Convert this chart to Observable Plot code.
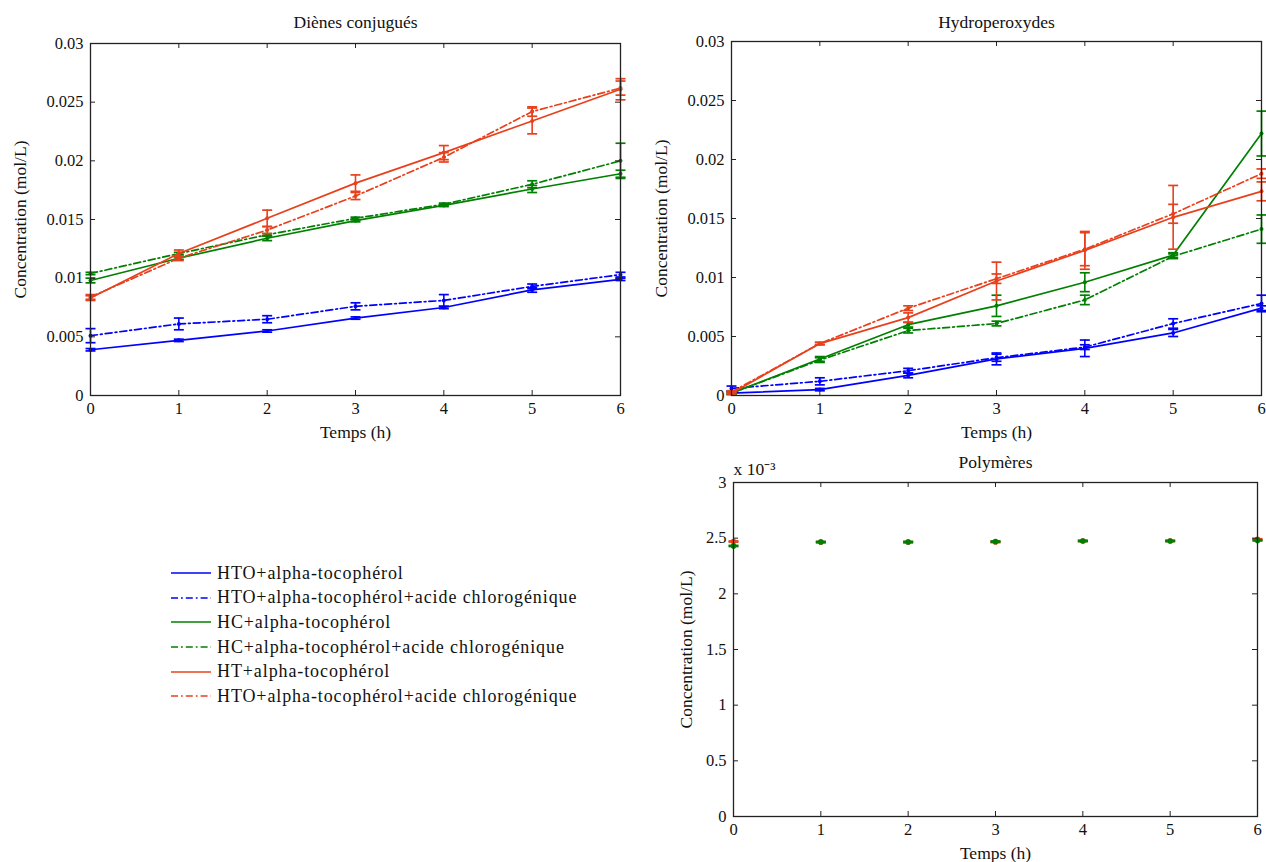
<!DOCTYPE html>
<html>
<head>
<meta charset="utf-8">
<script src="https://cdn.jsdelivr.net/npm/d3@7"></script>
<script src="https://cdn.jsdelivr.net/npm/@observablehq/plot@0.6"></script>
<style>
  html, body { margin: 0; padding: 0; background: #fff; overflow: hidden; }
  #root { position: relative; width: 1266px; height: 862px; font-family: "Liberation Serif", serif; color: #111; }
  .panel { position: absolute; }
  .panel svg { overflow: visible; }
  #legend { position: absolute; left: 170px; top: 561px; font-size: 18px; letter-spacing: 0.9px; }
  #legend .row { display: flex; align-items: center; height: 24.6px; }
  #legend svg { display: block; margin-right: 5px; }
</style>
</head>
<body>
<div id="root">
  <div class="panel" id="p1" style="left:0px;top:0px"></div>
  <div class="panel" id="p2" style="left:641px;top:0px"></div>
  <div class="panel" id="p3" style="left:641px;top:445px"></div>
  <div id="legend"></div>
</div>
<script>
// ---------------- data ----------------
const hours = [0, 1, 2, 3, 4, 5, 6];

const seriesNames = [
  "HTO+alpha-tocophérol",
  "HTO+alpha-tocophérol+acide chlorogénique",
  "HC+alpha-tocophérol",
  "HC+alpha-tocophérol+acide chlorogénique",
  "HT+alpha-tocophérol",
  "HTO+alpha-tocophérol+acide chlorogénique"
];

// Diènes conjugués (mol/L), one list per series, and error half-widths
const dienesHTO   = [0.0039, 0.0047, 0.0055, 0.0066, 0.0075, 0.0090, 0.0099];
const dienesHTOac = [0.0051, 0.0061, 0.0065, 0.0076, 0.0081, 0.0093, 0.0103];
const dienesHC    = [0.0098, 0.0117, 0.0134, 0.0149, 0.0162, 0.0176, 0.0189];
const dienesHCac  = [0.0104, 0.0121, 0.0137, 0.0151, 0.0163, 0.0180, 0.0200];
const dienesHT    = [0.0083, 0.0121, 0.0151, 0.0181, 0.0207, 0.0234, 0.0261];
const dienesHTac  = [0.0084, 0.0117, 0.0141, 0.0170, 0.0203, 0.0242, 0.0262];
const dienesErrHTO   = [0.0001, 0.0001, 0.0001, 0.0001, 0.0001, 0.0002, 0.0001];
const dienesErrHTOac = [0.0006, 0.0005, 0.0003, 0.0003, 0.0005, 0.0002, 0.0002];
const dienesErrHC    = [0.0002, 0.0001, 0.0002, 0.0001, 0.0001, 0.0003, 0.0003];
const dienesErrHCac  = [0.0001, 0.0001, 0.0001, 0.0001, 0.0001, 0.0003, 0.0015];
const dienesErrHT    = [0.0002, 0.0003, 0.0007, 0.0007, 0.0006, 0.0011, 0.0009];
const dienesErrHTac  = [0.0002, 0.0002, 0.0003, 0.0003, 0.0004, 0.0004, 0.0006];

// Hydroperoxydes (mol/L)
const hydroHTO   = [0.0002, 0.0005, 0.0017, 0.0031, 0.0040, 0.0053, 0.0074];
const hydroHTOac = [0.0006, 0.0012, 0.0021, 0.0032, 0.0041, 0.0061, 0.0078];
const hydroHC    = [0.0002, 0.0031, 0.0060, 0.0076, 0.0096, 0.0119, 0.0222];
const hydroHCac  = [0.0002, 0.0030, 0.0055, 0.0061, 0.0081, 0.0118, 0.0141];
const hydroHT    = [0.0002, 0.0044, 0.0066, 0.0097, 0.0123, 0.0151, 0.0173];
const hydroHTac  = [0.0003, 0.0044, 0.0074, 0.0099, 0.0124, 0.0154, 0.0188];
const hydroErrHTO   = [0.0001, 0.0001, 0.0002, 0.0005, 0.0007, 0.0003, 0.0002];
const hydroErrHTOac = [0.0002, 0.0003, 0.0002, 0.0003, 0.0002, 0.0004, 0.0007];
const hydroErrHC    = [0.0001, 0.0002, 0.0002, 0.0009, 0.0008, 0.0002, 0.0019];
const hydroErrHCac  = [0.0001, 0.0002, 0.0002, 0.0002, 0.0004, 0.0002, 0.0012];
const hydroErrHT    = [0.0001, 0.0001, 0.0004, 0.0016, 0.0016, 0.0027, 0.0008];
const hydroErrHTac  = [0.0001, 0.0001, 0.0002, 0.0004, 0.0014, 0.0008, 0.0004];

// Polymères (×10^-3 mol/L): only two series are visible
const polyHC = [2.43, 2.465, 2.465, 2.47, 2.475, 2.475, 2.48];
const polyHT = [2.47, 2.465, 2.465, 2.465, 2.475, 2.475, 2.49];
const polyErrHC = [0.005, 0.005, 0.005, 0.005, 0.005, 0.005, 0.005];
const polyErrHT = [0.005, 0.005, 0.005, 0.005, 0.005, 0.005, 0.005];

// tick values and labels
const yTicksTop = [0, 0.005, 0.01, 0.015, 0.02, 0.025, 0.03];
const yTickLabelsTop = ["0", "0.005", "0.01", "0.015", "0.02", "0.025", "0.03"];
const yTicksPoly = [0, 0.5, 1, 1.5, 2, 2.5, 3];
const yTickLabelsPoly = ["0", "0.5", "1", "1.5", "2", "2.5", "3"];
const xTickLabels = ["0", "1", "2", "3", "4", "5", "6"];

// ---------------- styles ----------------
const FONT = "'Liberation Serif', serif";
const FS = 16.5;      // tick labels
const FL = 17.5;      // titles / axis labels
const BLUE = "#0000ff", GREEN = "#008000", RED = "#e8401c";
const DASHDOT = "7,3,1.8,3";
const seriesStyle = [
  {color: BLUE, dash: null}, {color: BLUE, dash: DASHDOT},
  {color: GREEN, dash: null}, {color: GREEN, dash: DASHDOT},
  {color: RED, dash: null}, {color: RED, dash: DASHDOT}
];

const capSymbol = { draw(ctx) { ctx.moveTo(-5, 0); ctx.lineTo(5, 0); } };

function rowsOf(values, errors) {
  return hours.map((h, i) => ({hour: h, value: values[i], err: errors[i]}));
}

function seriesMarks(rows, st, withLine = true) {
  const marks = [];
  if (withLine) {
    marks.push(Plot.line(rows, {x: "hour", y: "value", stroke: st.color, strokeWidth: 1.7, strokeDasharray: st.dash}));
  }
  marks.push(Plot.ruleX(rows, {x: "hour", y1: d => d.value - d.err, y2: d => d.value + d.err, stroke: st.color, strokeWidth: 1.6}));
  marks.push(Plot.dot(rows, {x: "hour", y: d => d.value - d.err, symbol: capSymbol, stroke: st.color, strokeWidth: 1.7, fill: "none"}));
  marks.push(Plot.dot(rows, {x: "hour", y: d => d.value + d.err, symbol: capSymbol, stroke: st.color, strokeWidth: 1.7, fill: "none"}));
  marks.push(Plot.dot(rows, {x: "hour", y: "value", r: withLine ? 2 : 2.8, fill: st.color, stroke: "none"}));
  return marks;
}

function panel({width, height, mt, mr, mb, ml, yDomain, yTicks, yLabels, title, titleDy, seriesList, ylabelDx, extra = []}) {
  const fw = width - ml - mr, fh = height - mt - mb;
  const marks = [];
  for (const s of seriesList) marks.push(...seriesMarks(s.rows, s.style, s.line));
  const labelStyle = {fontSize: FL, fill: "#111", lineAnchor: "middle", textAnchor: "middle", letterSpacing: "0.4px"};
  marks.push(
    Plot.frame({stroke: "#222", strokeWidth: 1.3}),
    // labels
    Plot.axisX(hours, {anchor: "bottom", tickSize: 0, tickPadding: 7, label: null, fontSize: FS, tickFormat: (d, i) => xTickLabels[i]}),
    Plot.axisY(yTicks, {anchor: "left", tickSize: 0, tickPadding: 7, label: null, fontSize: FS, tickFormat: (d, i) => yLabels[i]}),
    // inward ticks on all four sides
    Plot.tickX(hours, {x: d => d, insetTop: fh - 5, stroke: "#222"}),
    Plot.tickX(hours, {x: d => d, insetBottom: fh - 5, stroke: "#222"}),
    Plot.tickY(yTicks, {y: d => d, insetRight: fw - 5, stroke: "#222"}),
    Plot.tickY(yTicks, {y: d => d, insetLeft: fw - 5, stroke: "#222"}),
    Plot.text([title], {frameAnchor: "top", dy: titleDy, ...labelStyle}),
    Plot.text(["Temps (h)"], {frameAnchor: "bottom", dy: 37, ...labelStyle}),
    Plot.text(["Concentration (mol/L)"], {frameAnchor: "left", dx: ylabelDx, rotate: -90, ...labelStyle}),
    ...extra
  );
  return Plot.plot({
    width, height,
    marginTop: mt, marginRight: mr, marginBottom: mb, marginLeft: ml,
    style: {fontFamily: FONT, fontSize: FS + "px", color: "#111", background: "transparent", overflow: "visible"},
    x: {domain: [0, 6]},
    y: {domain: yDomain},
    marks
  });
}

const dienesSeries = [
  [dienesHTO, dienesErrHTO], [dienesHTOac, dienesErrHTOac],
  [dienesHC, dienesErrHC], [dienesHCac, dienesErrHCac],
  [dienesHT, dienesErrHT], [dienesHTac, dienesErrHTac]
].map(([v, e], i) => ({rows: rowsOf(v, e), style: seriesStyle[i], line: true}));

const hydroSeries = [
  [hydroHTO, hydroErrHTO], [hydroHTOac, hydroErrHTOac],
  [hydroHC, hydroErrHC], [hydroHCac, hydroErrHCac],
  [hydroHT, hydroErrHT], [hydroHTac, hydroErrHTac]
].map(([v, e], i) => ({rows: rowsOf(v, e), style: seriesStyle[i], line: true}));

const polySeries = [
  {rows: rowsOf(polyHT, polyErrHT), style: seriesStyle[4], line: false},
  {rows: rowsOf(polyHC, polyErrHC), style: seriesStyle[2], line: false}
];

document.getElementById("p1").append(panel({
  width: 640, height: 445, mt: 43, mr: 20, mb: 50, ml: 90,
  yDomain: [0, 0.03], yTicks: yTicksTop, yLabels: yTickLabelsTop,
  title: "Diènes conjugués", titleDy: -21, seriesList: dienesSeries, ylabelDx: -70
}));

document.getElementById("p2").append(panel({
  width: 625, height: 445, mt: 41, mr: 5, mb: 50, ml: 90,
  yDomain: [0, 0.03], yTicks: yTicksTop, yLabels: yTickLabelsTop,
  title: "Hydroperoxydes", titleDy: -19, seriesList: hydroSeries, ylabelDx: -70
}));

document.getElementById("p3").append(panel({
  width: 625, height: 417, mt: 37, mr: 9, mb: 46, ml: 92,
  yDomain: [0, 3], yTicks: yTicksPoly, yLabels: yTickLabelsPoly,
  title: "Polymères", titleDy: -20, seriesList: polySeries, ylabelDx: -47,
  extra: [Plot.text(["x 10⁻³"], {frameAnchor: "top-left", textAnchor: "start", lineAnchor: "middle", dx: 0, dy: -13, fontSize: FL, fill: "#111"})]
}));

// ---------------- legend ----------------
const legend = d3.select("#legend");
seriesNames.forEach((name, i) => {
  const row = legend.append("div").attr("class", "row");
  const svg = row.append("svg").attr("width", 42).attr("height", 10);
  svg.append("line").attr("x1", 1).attr("x2", 41).attr("y1", 5).attr("y2", 5)
    .attr("stroke", seriesStyle[i].color).attr("stroke-width", 1.6)
    .attr("stroke-dasharray", seriesStyle[i].dash);
  row.append("span").text(name);
});
</script>
</body>
</html>
